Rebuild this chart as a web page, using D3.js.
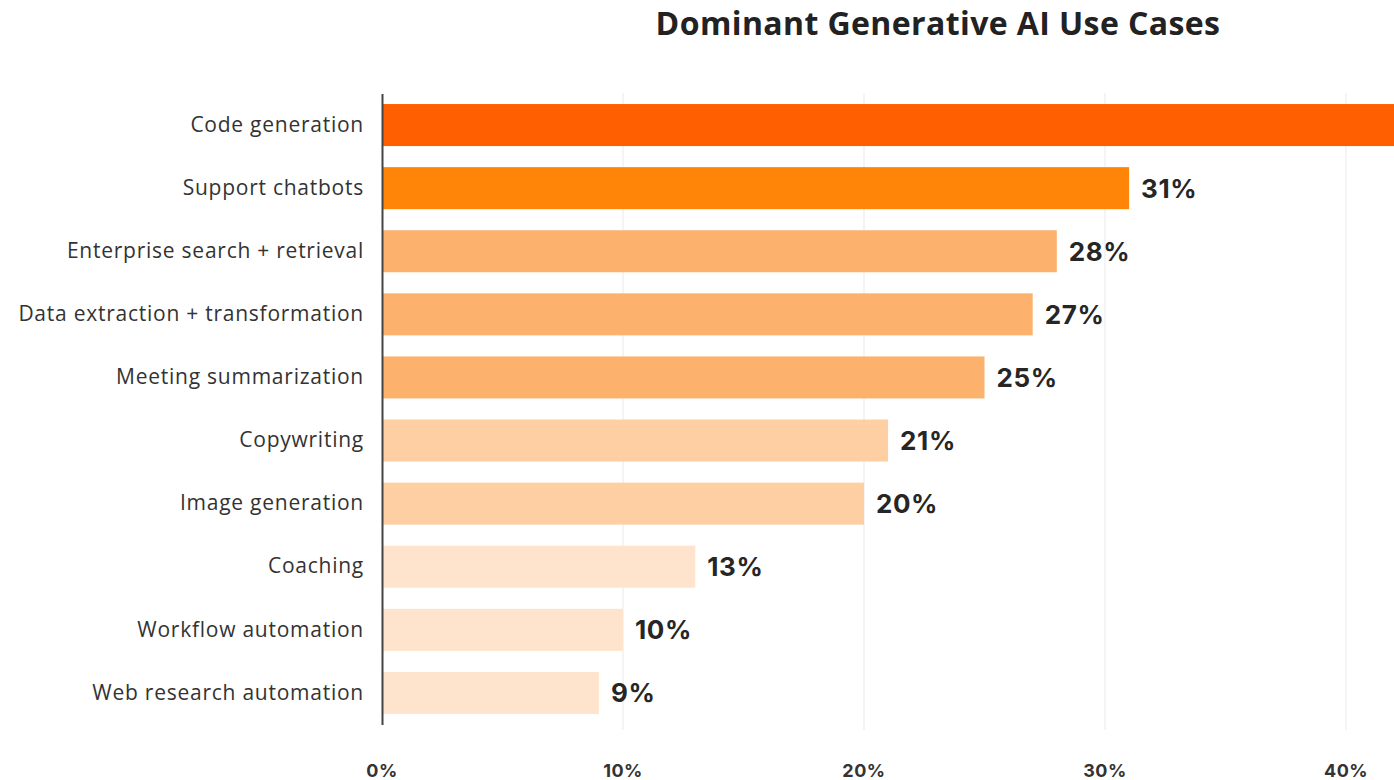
<!DOCTYPE html>
<html>
<head>
<meta charset="utf-8">
<script src="https://cdn.jsdelivr.net/npm/d3@7"></script>
<style>
  body { margin: 0; background: #fff; overflow: hidden; }
</style>
</head>
<body>
<div id="app"></div>
<script>
// data
const categories = [
  "Code generation",
  "Support chatbots",
  "Enterprise search + retrieval",
  "Data extraction + transformation",
  "Meeting summarization",
  "Copywriting",
  "Image generation",
  "Coaching",
  "Workflow automation",
  "Web research automation"
];
const values = [51, 31, 28, 27, 25, 21, 20, 13, 10, 9];
const tickValues = [0, 10, 20, 30, 40];
const tickLabels = ["0%", "10%", "20%", "30%", "40%"];

const w = 1394;
const h = 780;

const svg = d3.select("#app")
  .append("svg")
  .attr("width", w)
  .attr("height", h);

//title
svg.append("text")
  .attr("x", 938)
  .attr("y", 35)
  .attr("text-anchor", "middle")
  .style("font-family", "'Open Sans', sans-serif")
  .style("font-weight", 700)
  .style("font-size", "32px")
  .style("letter-spacing", "0.4px")
  .style("fill", "#222")
  .text("Dominant Generative AI Use Cases");

const x = d3.scaleLinear().domain([0, 40]).range([382, 1346]);
const y = d3.scaleBand()
  .domain(categories)
  .range([93.5, 724.5])
  .paddingInner(0.334)
  .paddingOuter(0.167);

const color = (v) => {
  if (v > 40) return "#ff5f00";
  if (v > 30) return "#ff8509";
  if (v >= 25) return "#fcb26d";
  if (v >= 20) return "#fdcfa2";
  return "#fee4cc";
};

//gridlines
svg.append("g")
  .selectAll("line")
  .data(tickValues.slice(1))
  .enter()
  .append("line")
  .attr("x1", (d) => x(d))
  .attr("x2", (d) => x(d))
  .attr("y1", 93)
  .attr("y2", 730)
  .style("stroke", "#f1f1f1")
  .style("stroke-width", 1.5);

//bars
svg.append("g")
  .selectAll("rect")
  .data(categories)
  .enter()
  .append("rect")
  .attr("x", x(0))
  .attr("y", (d) => y(d))
  .attr("width", (d, i) => x(values[i]) - x(0))
  .attr("height", y.bandwidth())
  .style("fill", (d, i) => color(values[i]));

//value labels
svg.append("g")
  .selectAll("text")
  .data(categories)
  .enter()
  .append("text")
  .attr("x", (d, i) => x(values[i]) + 12)
  .attr("y", (d) => y(d) + y.bandwidth() / 2)
  .attr("dy", "0.36em")
  .style("font-family", "Inter, sans-serif")
  .style("font-weight", 700)
  .style("font-size", "26px")
  .style("letter-spacing", "0.6px")
  .style("fill", "#262626")
  .text((d, i) => values[i] + "%");

//y axis
const yAxis = d3.axisLeft(y).tickSize(0).tickPadding(18);
const gy = svg.append("g")
  .attr("transform", "translate(" + x(0) + ",0)")
  .call(yAxis);
gy.select(".domain").style("stroke", "#444").style("stroke-width", 2);
gy.selectAll("text")
  .style("font-family", "'Open Sans', sans-serif")
  .style("font-size", "21px")
  .style("letter-spacing", "0.75px")
  .style("fill", "#333");

//x axis labels
svg.append("g")
  .selectAll("text")
  .data(tickValues)
  .enter()
  .append("text")
  .attr("x", (d) => x(d))
  .attr("y", 777)
  .attr("text-anchor", "middle")
  .style("font-family", "Inter, sans-serif")
  .style("font-weight", 700)
  .style("font-size", "18px")
  .style("letter-spacing", "0.5px")
  .style("fill", "#333")
  .text((d, i) => tickLabels[i]);
</script>
</body>
</html>
